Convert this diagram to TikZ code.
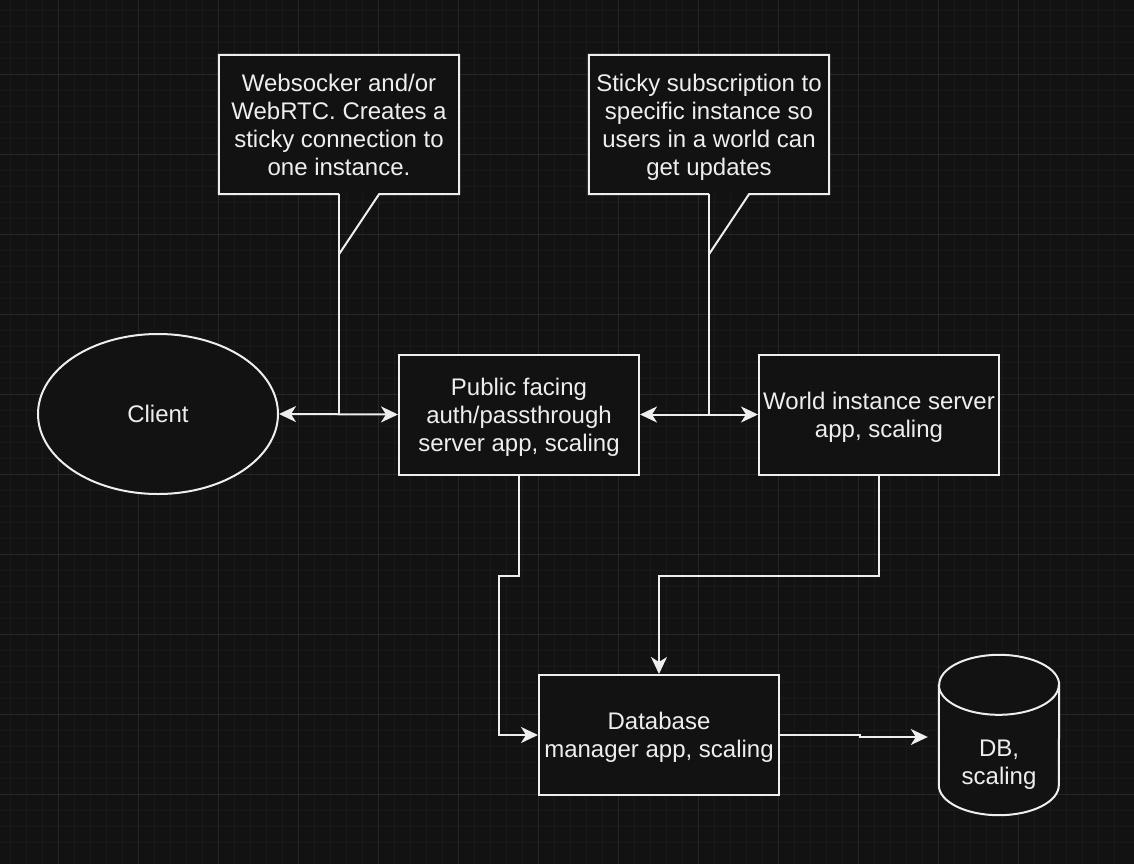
\documentclass[tikz,border=0pt]{standalone}
\usepackage{fontspec}
\setmainfont{Liberation Sans}
\usetikzlibrary{shapes.geometric,arrows.meta}
\definecolor{bgColor}{HTML}{121212}
\definecolor{minorColor}{HTML}{191919}
\definecolor{majorColor}{HTML}{262626}
\definecolor{inkColor}{HTML}{EEEEEE}
\begin{document}
\begin{tikzpicture}
[x=1pt,y=-1pt,
  lineDecorate/.style={draw=inkColor,line width=2pt},%
  arrowDecorate/.style={lineDecorate,-{Stealth[length=17pt,width=16pt,inset=5pt]}},
  biArrowDecorate/.style={lineDecorate,{Stealth[length=17pt,width=16pt,inset=5pt]}-{Stealth[length=17pt,width=16pt,inset=5pt]}},
  nodeDecorate/.style={fill=bgColor,text=inkColor,align=flush center,inner sep=0pt,
    text width=240pt,font=\fontsize{24}{28}\selectfont,
    execute at begin node={\rule{0pt}{23pt}},
    execute at end node={\rule[-5.2pt]{0pt}{5.2pt}}},
  boxDecorate/.style={nodeDecorate,shape=rectangle,draw=inkColor,line width=2pt,
    minimum width=240pt,minimum height=120pt},
  noteDecorate/.style={nodeDecorate,shape=rectangle,minimum width=240pt,minimum height=139pt},
  gridMinor/.style={draw=minorColor,line width=1pt},
  gridMajor/.style={draw=majorColor,line width=1pt}]
%% canvas and grid
\fill[bgColor] (0,0) rectangle (1134,864);
\useasboundingbox (0,0) rectangle (1134,864);
\foreach \x in {10.5,26.5,...,1130} {\draw[gridMinor] (\x,0) -- (\x,864);}
\foreach \y in {10.5,26.5,...,858} {\draw[gridMinor] (0,\y) -- (1134,\y);}
\foreach \x in {58.5,138.5,...,1098} {\draw[gridMajor] (\x,0) -- (\x,864);}
\foreach \y in {74.5,154.5,...,834} {\draw[gridMajor] (0,\y) -- (1134,\y);}
%% nodes
\node (client) at (158,414) [nodeDecorate,shape=ellipse,draw=inkColor,line width=2pt,
  text width=,minimum width=240pt,minimum height=160pt] {Client};
\node (public) at (519,414.5) [boxDecorate] {Public facing\\auth/passthrough\\server app, scaling};
\node (world) at (879,414.5) [boxDecorate] {World instance server\\app, scaling};
\node (dbmanager) at (659,735) [boxDecorate] {Database\\manager app, scaling};
\node (db) at (999,735) [nodeDecorate,text width=,minimum width=120pt,minimum height=160pt,fill=none] {};
\node (socketnote) at (339,124.5) [noteDecorate] {Websocker and/or\\WebRTC. Creates a\\sticky connection to\\one instance.};
\node (stickynote) at (709,124.5) [noteDecorate] {Sticky subscription to\\specific instance so\\users in a world can\\get updates};
%% database cylinder
\draw[lineDecorate,fill=bgColor] ([yshift=-30pt]db.north west) -- ([yshift=30pt]db.south west)
  arc[start angle=180,end angle=360,x radius=60pt,y radius=30pt]
  -- ([yshift=-30pt]db.north east)
  arc[start angle=0,end angle=180,x radius=60pt,y radius=30pt] -- cycle;
\draw[lineDecorate] ([yshift=-30pt]db.north west)
  arc[start angle=180,end angle=360,x radius=60pt,y radius=30pt];
\node (dblabel) at (db.center) [nodeDecorate,fill=none,yshift=-27pt] {DB,\\scaling};
%% callout outlines
\foreach \note in {socketnote,stickynote}
{
  \draw[lineDecorate] (\note.south) -- (\note.south west) -- (\note.north west)
    -- (\note.north east) -- (\note.south east) -- ([xshift=40pt]\note.south)
    -- ([yshift=-60pt]\note.south);
}
\draw[lineDecorate] (socketnote.south) -- (socketnote.south |- client.east);
\draw[lineDecorate] (stickynote.south) -- (stickynote.south |- world.west);
%% edges
\draw[biArrowDecorate] (client.east) -- (public.west);
\draw[biArrowDecorate] (public.east) -- (world.west);
\draw[arrowDecorate] (public.south) -- ++(0,100) -- ++(-20,0) |- (dbmanager.west);
\draw[arrowDecorate] (world.south) -- ++(0,100) -| (dbmanager.north);
\draw[arrowDecorate,shorten >=11pt] (dbmanager.east) -- ++(80,0) |- ([yshift=-2pt]db.west);
\end{tikzpicture}
\end{document}
